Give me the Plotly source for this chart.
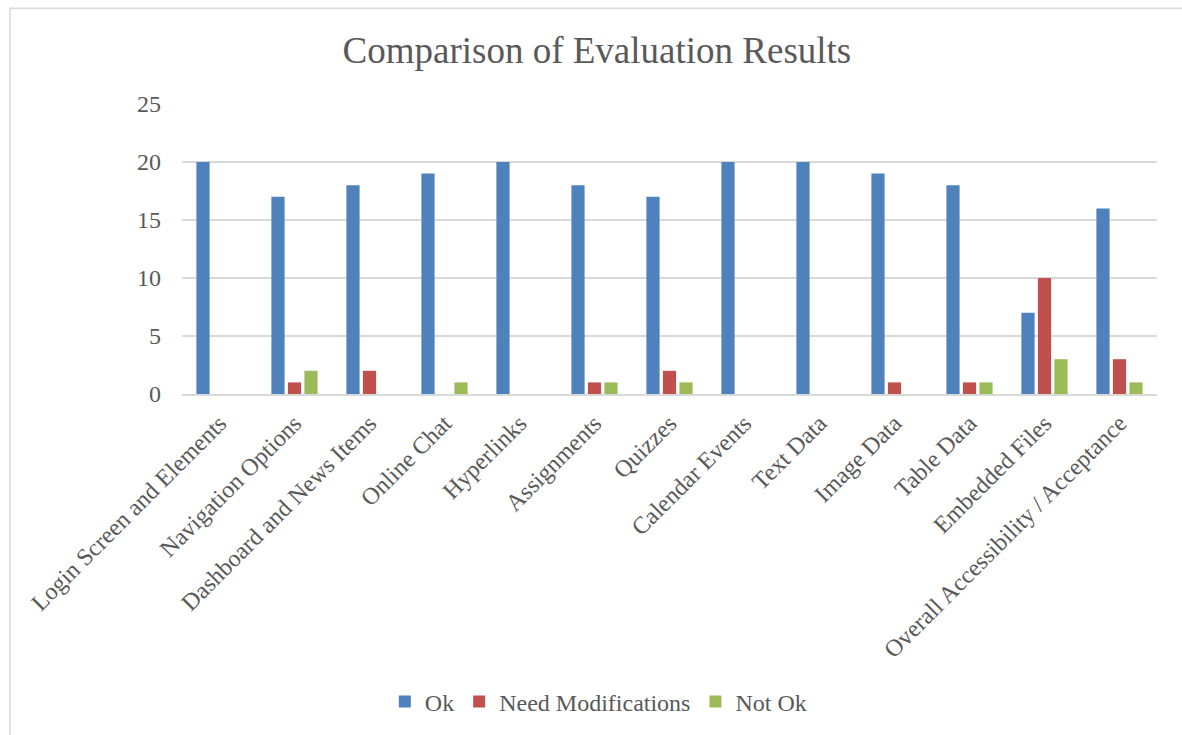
import plotly.graph_objects as go

categories = ["Login Screen and Elements", "Navigation Options", "Dashboard and News Items",
              "Online Chat", "Hyperlinks", "Assignments", "Quizzes", "Calendar Events",
              "Text Data", "Image Data", "Table Data", "Embedded Files",
              "Overall Accessibility / Acceptance"]
ok = [20, 17, 18, 19, 20, 18, 17, 20, 20, 19, 18, 7, 16]
need_mod = [0, 1, 2, 0, 0, 1, 2, 0, 0, 1, 1, 10, 3]
not_ok = [0, 2, 0, 1, 0, 1, 1, 0, 0, 0, 1, 3, 1]
series_names = ["Ok", "Need Modifications", "Not Ok"]
colors = ["#4F81BD", "#C0504D", "#9BBB59"]

FONT = "Liberation Serif"
GREY = "#595959"

fig = go.Figure()
for name, vals, col in zip(series_names, [ok, need_mod, not_ok], colors):
    fig.add_trace(go.Bar(x=categories, y=vals, name=name,
                         marker=dict(color=col, line=dict(width=0))))

fig.update_layout(
    width=1182, height=735,
    margin=dict(l=182, r=25, t=104, b=340),
    paper_bgcolor="white", plot_bgcolor="white",
    barmode="group", bargap=0.34, bargroupgap=0.2,
    font=dict(family=FONT, color=GREY, size=24),
    title=dict(text="Comparison of Evaluation Results", x=0.505, xanchor="center",
               y=1 - 50 / 735, yanchor="middle", xref="container", yref="container",
               font=dict(family=FONT, size=37, color=GREY)),
    showlegend=True,
    legend=dict(orientation="h", x=0.427, xanchor="center", y=-1.055, yanchor="middle",
                font=dict(family=FONT, size=24, color=GREY), itemwidth=30,
                bgcolor="rgba(0,0,0,0)"),
    shapes=[dict(type="rect", xref="paper", yref="paper",
                 x0=(10 - 182) / 975, x1=1.2, y0=-2.0, y1=(395 - 8) / 291,
                 line=dict(color="#d9d9d9", width=1.5), fillcolor="rgba(0,0,0,0)",
                 layer="below")],
)
fig.update_yaxes(range=[0, 25], dtick=5, showgrid=True, gridcolor="#d9d9d9", gridwidth=1.5,
                 zeroline=False, showline=False, ticks="", ticklabelstandoff=20,
                 tickfont=dict(family=FONT, size=24, color=GREY))
fig.update_xaxes(showline=True, linecolor="#d9d9d9", linewidth=1.5, ticks="",
                 tickangle=-45, ticklabelstandoff=4,
                 tickfont=dict(family=FONT, size=24, color=GREY))

fig.write_html("out.html")
